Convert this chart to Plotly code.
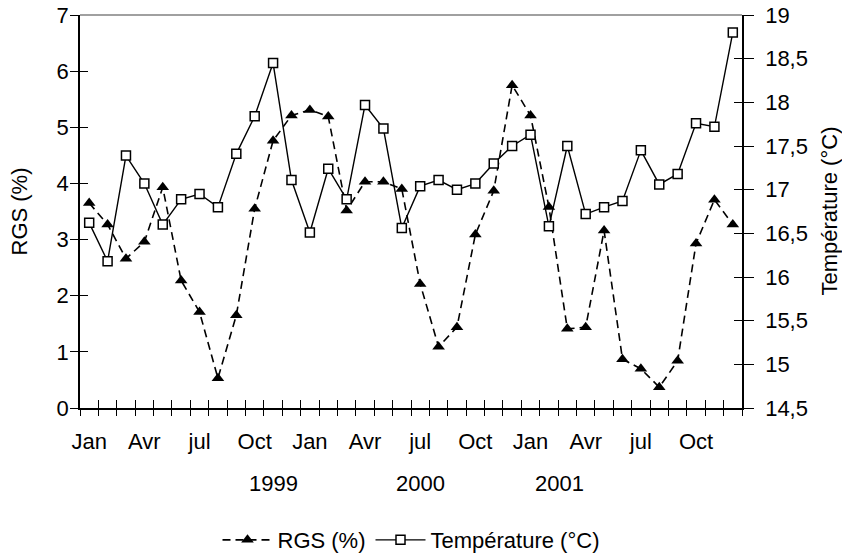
import plotly.graph_objects as go

tick_labels = ["Jan", "Avr", "jul", "Oct"] * 3
tick_positions = list(range(0, 36, 3))
years = ["1999", "2000", "2001"]
year_positions = [10, 18, 25.6]

rgs = [3.65, 3.27, 2.66, 2.96, 3.93, 2.27, 1.71, 0.53, 1.65, 3.55, 4.76, 5.21,
       5.31, 5.19, 3.52, 4.03, 4.03, 3.90, 2.21, 1.09, 1.44, 3.09, 3.87, 5.75,
       5.21, 3.58, 1.41, 1.44, 3.16, 0.87, 0.70, 0.37, 0.84, 2.93, 3.71, 3.27]
temp = [16.62, 16.18, 17.39, 17.07, 16.60, 16.89, 16.95, 16.80, 17.41, 17.84, 18.45, 17.11,
        16.51, 17.24, 16.89, 17.97, 17.70, 16.56, 17.04, 17.11, 17.00, 17.07, 17.30, 17.50,
        17.63, 16.58, 17.50, 16.72, 16.80, 16.87, 17.45, 17.06, 17.18, 17.76, 17.72, 18.80]

left_ticks = list(range(0, 8))
right_ticks = [14.5, 15, 15.5, 16, 16.5, 17, 17.5, 18, 18.5, 19]
right_text = [str(v).replace(".", ",") if v % 1 else str(int(v)) for v in right_ticks]

x = list(range(len(rgs)))
boundaries = [i - 0.5 for i in range(len(rgs) + 1)]

FONT = "Liberation Sans, Arial, sans-serif"
FS = 22

fig = go.Figure()
fig.add_trace(go.Scatter(
    x=x, y=rgs, name="RGS (%)", mode="lines+markers",
    line=dict(color="black", width=1.6, dash="8px,5px"),
    marker=dict(symbol="triangle-up", size=11, color="black"),
    xaxis="x", yaxis="y"))
fig.add_trace(go.Scatter(
    x=x, y=temp, name="Température (°C)", mode="lines+markers",
    line=dict(color="black", width=1.4),
    marker=dict(symbol="square", size=9, color="white", line=dict(color="black", width=1.5)),
    xaxis="x", yaxis="y2"))
# empty helper traces so overlay tick axes get drawn
for xa, ya in [("x2", "y"), ("x3", "y"), ("x", "y3"), ("x", "y4")]:
    fig.add_trace(go.Scatter(x=[None], y=[None], xaxis=xa, yaxis=ya, showlegend=False,
                             hoverinfo="skip", mode="lines"))

xr = [-0.5, 35.5]
fig.update_layout(
    width=842, height=560,
    margin=dict(l=80, r=100, t=15, b=152, autoexpand=False),
    paper_bgcolor="white", plot_bgcolor="white",
    font=dict(family=FONT, size=FS, color="black"),
    showlegend=True,
    legend=dict(orientation="h", x=0.5, xanchor="center", y=-0.336, yanchor="middle",
                font=dict(size=FS), itemwidth=50, traceorder="normal", tracegroupgap=0),
    xaxis=dict(range=xr, tickmode="array", tickvals=tick_positions, ticktext=tick_labels,
               ticks="outside", ticklen=13, tickcolor="rgba(0,0,0,0)",
               showline=True, linecolor="black", linewidth=1.5, showgrid=False, zeroline=False,
               anchor="y", tickfont=dict(size=FS)),
    xaxis2=dict(range=xr, overlaying="x", anchor="y", side="bottom", tickmode="array",
                tickvals=boundaries, ticks="outside", ticklen=7, tickwidth=1.2, tickcolor="black",
                showticklabels=False, showline=False, showgrid=False, zeroline=False),
    xaxis3=dict(range=xr, overlaying="x", anchor="y", side="bottom", tickmode="array",
                tickvals=boundaries, ticks="inside", ticklen=8, tickwidth=1.2, tickcolor="black",
                showticklabels=False, showline=False, showgrid=False, zeroline=False),
    yaxis=dict(range=[0, 7], tickmode="array", tickvals=left_ticks, ticks="outside", ticklen=8,
               ticklabelstandoff=-3,
               tickwidth=1.2, tickcolor="black", showline=True, linecolor="black", linewidth=1.5,
               showgrid=False, zeroline=False, anchor="x", tickfont=dict(size=FS)),
    yaxis3=dict(range=[0, 7], overlaying="y", anchor="x", side="left", tickmode="array",
                tickvals=left_ticks, ticks="inside", ticklen=8, tickwidth=1.2, tickcolor="black",
                showticklabels=False, showline=False, showgrid=False, zeroline=False),
    yaxis2=dict(range=[14.5, 19], overlaying="y", side="right", anchor="x", tickmode="array",
                tickvals=right_ticks, ticktext=right_text, ticks="outside", ticklen=10,
                ticklabelstandoff=7,
                tickwidth=1.2, tickcolor="black", showline=True, linecolor="black", linewidth=1.5,
                showgrid=False, zeroline=False, tickfont=dict(size=FS)),
    yaxis4=dict(range=[14.5, 19], overlaying="y", side="right", anchor="x", tickmode="array",
                tickvals=right_ticks, ticks="inside", ticklen=8, tickwidth=1.2, tickcolor="black",
                showticklabels=False, showline=False, showgrid=False, zeroline=False),
    shapes=[dict(type="line", xref="paper", yref="paper", x0=0, x1=1, y0=1, y1=1,
                 line=dict(color="#808080", width=1.5))],
)

annotations = []
for yr, pos in zip(years, year_positions):
    annotations.append(dict(x=pos, y=-0.191, xref="x", yref="paper", text=yr, showarrow=False,
                            font=dict(size=FS), xanchor="center", yanchor="middle"))
annotations.append(dict(x=-61 / 662, y=0.5, xref="paper", yref="paper", text="RGS (%)",
                        textangle=-90, showarrow=False, font=dict(size=FS),
                        xanchor="center", yanchor="middle"))
annotations.append(dict(x=1 + 87 / 662, y=0.5, xref="paper", yref="paper", text="Température (°C)",
                        textangle=-90, showarrow=False, font=dict(size=FS),
                        xanchor="center", yanchor="middle"))
fig.update_layout(annotations=annotations)

fig.write_html("out.html")
